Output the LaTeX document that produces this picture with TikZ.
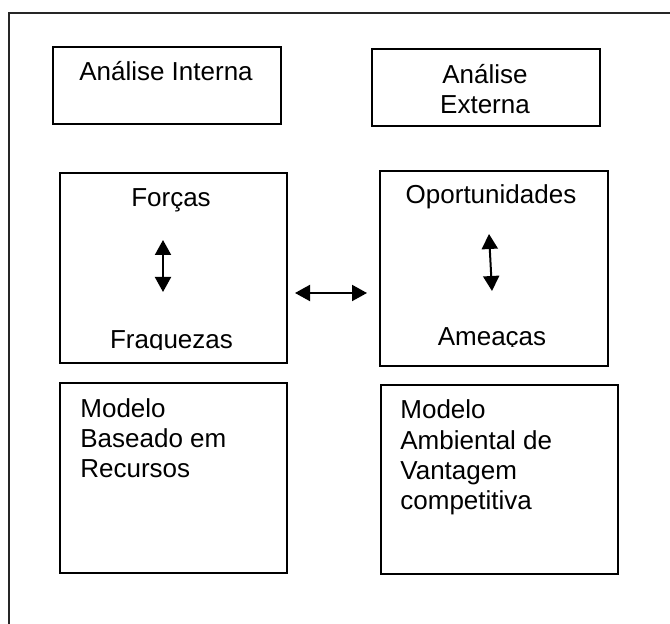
\documentclass[tikz,border=0pt]{standalone}
\usepackage{fontspec}
\setmainfont{Liberation Sans}
\usetikzlibrary{arrows.meta}

\tikzset{
  box/.style={draw, line width=1pt, inner sep=0pt, anchor=north west},
  lbl/.style={inner sep=0pt, font=\fontsize{13}{15.2}\selectfont},
  dblarrow/.style={{Triangle[width=8pt,length=7.5pt]}-{Triangle[width=8pt,length=7.5pt]}, line width=1pt}
}

\begin{document}
\begin{tikzpicture}[x=0.5pt,y=-0.5pt]
    \useasboundingbox (0,0) rectangle (670,624);

    % Frame
    \draw[line width=1pt, black!85] (9,660) |- (700,13.5);

    % Boxes
    \node[box, minimum width=114pt, minimum height=38.5pt] (intbox) at (52,46) {};
    \node[box, minimum width=114pt, minimum height=38.5pt] (extbox) at (371,48) {};
    \node[box, minimum width=113.75pt, minimum height=95pt] (forbox) at (58.5,172) {};
    \node[box, minimum width=114pt, minimum height=97.5pt] (opbox) at (379,170) {};
    \node[box, minimum width=113.75pt, minimum height=95pt] (rbvbox) at (58.5,382) {};
    \node[box, minimum width=118.75pt, minimum height=94.5pt] (ambbox) at (379.5,384) {};

    % Labels (base = last line)
    \node[lbl, anchor=base] (intlbl) at (166,81) {Análise Interna};
    \node[lbl, anchor=base, align=center] (extlbl) at (485,114) {Análise\\Externa};
    \node[lbl, anchor=base] (forlbl) at (171,207) {Forças};
    \node[lbl, anchor=base] (oplbl) at (491,204) {Oportunidades};
    \begin{scope}
        \clip (58,300) rectangle (286,349.5);
        \node[lbl, anchor=base] (fralbl) at (171.5,349) {Fraquezas};
    \end{scope}
    \begin{scope}
        \clip (379,300) rectangle (607,347);
        \node[lbl, anchor=base] (amelbl) at (492,346) {Ameaças};
    \end{scope}
    \node[lbl, anchor=base west, align=left] (rbvlbl) at (80,478) {Modelo\\Baseado em\\Recursos};
    \node[lbl, anchor=base west, align=left] (amblbl) at (400,510) {Modelo\\Ambiental de\\Vantagem\\competitiva};

    % Arrows
    \coordinate (fup) at (163,240);
    \coordinate (fdown) at (163,292);
    \coordinate (oup) at (489,234);
    \coordinate (odown) at (492,291);
    \coordinate (hleft) at (295,293);
    \coordinate (hright) at (367,293);
    \draw[dblarrow] (fup) -- (fdown);
    \draw[dblarrow] (oup) -- (odown);
    \draw[dblarrow] (hleft) -- (hright);
\end{tikzpicture}
\end{document}
